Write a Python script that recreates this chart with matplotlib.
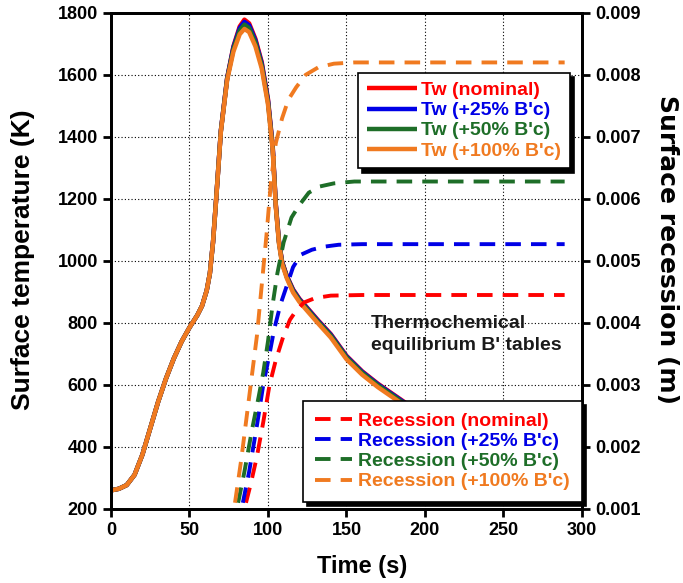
import matplotlib
matplotlib.use("Agg")
import matplotlib.pyplot as plt

plt.rcParams['font.family'] = ['Liberation Sans', 'DejaVu Sans']
plt.rcParams['font.weight'] = 'bold'

# --- Data ---
# Surface temperature (K) vs time (s)
t_temp = [0, 5, 10, 15, 20, 25, 30, 35, 40, 45, 50, 55, 58, 61, 63, 65, 67, 70, 74, 78,
          82, 85, 88, 92, 96, 100, 103, 105, 107, 109, 112, 116, 120, 126, 132, 140,
          150, 160, 170, 180, 190, 200]
tw_nominal = [260, 265, 277, 310, 375, 460, 545, 620, 685, 740, 785, 825, 855, 905, 960, 1060,
              1200, 1420, 1590, 1692, 1756, 1778, 1766, 1716, 1642, 1522, 1372, 1182, 1064, 998,
              952, 908, 878, 843, 808, 764, 694, 644, 604, 569, 534, 504]
tw_25 = [260, 265, 277, 310, 375, 460, 545, 620, 685, 740, 785, 825, 855, 905, 960, 1060,
         1200, 1420, 1589, 1689, 1751, 1771, 1760, 1711, 1637, 1518, 1368, 1180, 1062, 996,
         950, 906, 876, 841, 806, 762, 692, 642, 602, 567, 532, 502]
tw_50 = [260, 265, 277, 310, 375, 460, 545, 620, 685, 740, 785, 825, 855, 905, 960, 1060,
         1200, 1419, 1587, 1684, 1743, 1762, 1751, 1704, 1631, 1513, 1364, 1178, 1060, 994,
         948, 903, 873, 838, 803, 759, 689, 639, 599, 564, 529, 499]
tw_100 = [260, 265, 277, 310, 375, 460, 545, 620, 685, 740, 785, 825, 855, 905, 960, 1060,
          1199, 1417, 1583, 1675, 1731, 1748, 1738, 1692, 1621, 1505, 1358, 1174, 1056, 990,
          944, 898, 868, 833, 798, 753, 683, 633, 593, 558, 523, 493]

# Surface recession (m) vs time (s)
t_rec_nominal = [86, 89, 93, 97, 101, 105, 110, 114, 118, 123, 130, 140, 160, 200, 250, 289]
rec_nominal = [0.0011, 0.0014, 0.00185, 0.0024, 0.0030, 0.0034, 0.0038, 0.00405, 0.0042,
               0.00433, 0.0044, 0.00444, 0.00445, 0.00445, 0.00445, 0.00445]
t_rec_25 = [84, 88, 93, 97, 101, 104, 108, 112, 116, 121, 128, 136, 145, 160, 200, 289]
rec_25 = [0.0011, 0.0016, 0.00235, 0.0030, 0.0035, 0.0039, 0.0043, 0.0046, 0.0049, 0.0051,
          0.00518, 0.00523, 0.00526, 0.00527, 0.00527, 0.00527]
t_rec_50 = [81, 85, 90, 94, 97, 100, 103, 106, 110, 115, 120, 126, 133, 142, 155, 200, 289]
rec_50 = [0.0011, 0.0016, 0.0023, 0.0028, 0.0032, 0.0037, 0.0043, 0.0048, 0.0053, 0.0057,
          0.0059, 0.0061, 0.0062, 0.00625, 0.00628, 0.00628, 0.00628]
t_rec_100 = [79, 83, 87, 90, 93, 96, 99, 102, 105, 109, 113, 118, 124, 132, 142, 155, 200, 289]
rec_100 = [0.0011, 0.0018, 0.0026, 0.0032, 0.0038, 0.0046, 0.0054, 0.0063, 0.0069, 0.0073,
           0.0076, 0.0078, 0.0080, 0.00812, 0.00818, 0.0082, 0.0082, 0.0082]

temp_labels = ["Tw (nominal)", "Tw (+25% B'c)", "Tw (+50% B'c)", "Tw (+100% B'c)"]
rec_labels = ["Recession (nominal)", "Recession (+25% B'c)", "Recession (+50% B'c)",
              "Recession (+100% B'c)"]
colors = ['#ff0000', '#0000e6', '#1e6e28', '#f07a20']

# --- Plot ---
fig = plt.figure(figsize=(6.83, 5.83), dpi=100)
ax = fig.add_axes([0.1625, 0.127, 0.6895, 0.851])
ax2 = ax.twinx()

temps = [tw_nominal, tw_25, tw_50, tw_100]
temp_lines = []
for tw, c, lab in zip(temps, colors, temp_labels):
    ln, = ax.plot(t_temp, tw, color=c, lw=3.2, label=lab, solid_capstyle='butt')
    temp_lines.append(ln)

recs = [(t_rec_nominal, rec_nominal), (t_rec_25, rec_25), (t_rec_50, rec_50), (t_rec_100, rec_100)]
rec_lines = []
for (tr, rr), c, lab in zip(recs, colors, rec_labels):
    ln, = ax2.plot(tr, rr, color=c, lw=2.8, ls=(0, (4, 2.6)), label=lab)
    rec_lines.append(ln)

ax.set_xlim(0, 300)
ax.set_ylim(200, 1800)
ax2.set_ylim(0.001, 0.009)
ax.set_xticks(range(0, 301, 50))
ax.set_yticks(range(200, 1801, 200))
ax2.set_yticks([0.001 * i for i in range(1, 10)])
ax2.set_yticklabels([f"{0.001 * i:.3f}" for i in range(1, 10)])

ax.grid(True, color='black', ls=(0, (1, 2)), lw=0.8)
ax.set_axisbelow(True)
for a in (ax, ax2):
    for s in a.spines.values():
        s.set_linewidth(2)
ax.tick_params(axis='both', direction='out', width=2, length=6, labelsize=13)
ax2.tick_params(axis='y', direction='out', width=2, length=6, labelsize=13)

# axis titles placed in figure pixels to match the reference
fig.text(362 / 683, 1 - 567 / 583, "Time (s)", fontsize=17, fontweight='bold',
         ha='center', va='center')
fig.text(23 / 683, 1 - 260 / 583, "Surface temperature (K)", fontsize=19, fontweight='bold',
         ha='center', va='center', rotation=90)
fig.text(667 / 683, 1 - 250 / 583, "Surface recession (m)", fontsize=18, fontweight='bold',
         ha='center', va='center', rotation=270, family='DejaVu Sans')

ax2.text(165.5, 0.00412, "Thermochemical\nequilibrium B' tables", fontsize=14,
         fontweight='bold', color='#1a1a1a', va='top', ha='left', linespacing=1.35)

shadow = {'color': 'black', 'alpha': 1, 'ox': 3, 'oy': -3}
leg1 = ax2.legend(handles=temp_lines, loc='upper right', bbox_to_anchor=(0.9745, 0.879),
                  fontsize=14, labelcolor='linecolor', fancybox=False, shadow=shadow,
                  framealpha=1, edgecolor='black', handlelength=2.6, labelspacing=0.13,
                  handletextpad=0.2, borderpad=0.45, borderaxespad=0)
leg1.get_frame().set_linewidth(1.2)
ax2.add_artist(leg1)
leg2 = ax2.legend(handles=rec_lines, loc='lower right', bbox_to_anchor=(1.0, 0.014),
                  fontsize=14, labelcolor='linecolor', fancybox=False, shadow=shadow,
                  framealpha=1, edgecolor='black', handlelength=1.9, labelspacing=0.13,
                  handletextpad=0.35, borderpad=0.6, borderaxespad=0)
leg2.get_frame().set_linewidth(1.2)

fig.savefig("out.png", dpi=100)
